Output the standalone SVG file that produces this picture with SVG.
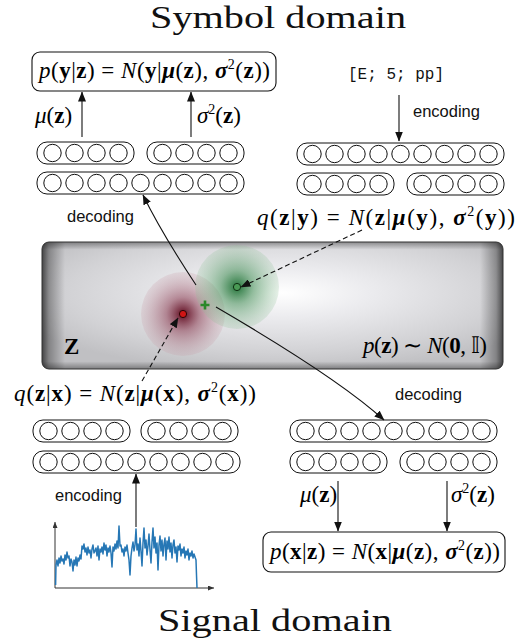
<svg xmlns="http://www.w3.org/2000/svg" width="528" height="643" viewBox="0 0 528 643">
<style>
.m{font-family:"Liberation Serif","Times New Roman",serif;font-size:23px;fill:#000}
.i{font-style:italic}
.b{font-weight:bold}
.bi{font-weight:bold;font-style:italic}
.sup{font-size:14px}
.lbl{font-family:"Liberation Sans",Arial,sans-serif;font-size:16.5px;fill:#111}
.title{font-family:"Liberation Serif","Times New Roman",serif;font-size:31px;fill:#111}
.mono{font-family:"Liberation Mono","Courier New",monospace;font-size:16px;fill:#111}
.blk{fill:#fff;stroke:#111;stroke-width:1}
.neu{fill:#fff;stroke:#111;stroke-width:1}
.box{fill:#fff;stroke:#111;stroke-width:1.1}
.conn{fill:none;stroke:#111;stroke-width:1.1}
.dash{fill:none;stroke:#111;stroke-width:1.1;stroke-dasharray:5 3}
.axis{fill:none;stroke:#333;stroke-width:1}
</style>
<defs>
<marker id="ah" markerUnits="userSpaceOnUse" markerWidth="10" markerHeight="8" refX="9.5" refY="4" orient="auto">
<path d="M0,0 L10,4 L0,8 z" fill="#111"/>
</marker>
<marker id="ahs" markerUnits="userSpaceOnUse" markerWidth="6" markerHeight="5" refX="6" refY="2.5" orient="auto">
<path d="M0,0 L6,2.5 L0,5 z" fill="#333"/>
</marker>
<radialGradient id="zbg" cx="0.52" cy="0.4" r="0.62">
<stop offset="0" stop-color="#ffffff"/>
<stop offset="0.3" stop-color="#ececef"/>
<stop offset="0.75" stop-color="#d2d2d5"/>
<stop offset="1" stop-color="#c0c0c3"/>
</radialGradient>
<linearGradient id="zvh" x1="0" y1="0" x2="1" y2="0">
<stop offset="0" stop-color="#000" stop-opacity="0.65"/>
<stop offset="0.015" stop-color="#000" stop-opacity="0.32"/>
<stop offset="0.05" stop-color="#000" stop-opacity="0"/>
<stop offset="0.95" stop-color="#000" stop-opacity="0"/>
<stop offset="0.985" stop-color="#000" stop-opacity="0.32"/>
<stop offset="1" stop-color="#000" stop-opacity="0.65"/>
</linearGradient>
<linearGradient id="zvv" x1="0" y1="0" x2="0" y2="1">
<stop offset="0" stop-color="#000" stop-opacity="0.35"/>
<stop offset="0.06" stop-color="#000" stop-opacity="0"/>
<stop offset="0.94" stop-color="#000" stop-opacity="0"/>
<stop offset="1" stop-color="#000" stop-opacity="0.35"/>
</linearGradient>
<radialGradient id="gblob">
<stop offset="0" stop-color="#24733a" stop-opacity="1"/>
<stop offset="0.4" stop-color="#3f8c52" stop-opacity="0.55"/>
<stop offset="1" stop-color="#8cbf94" stop-opacity="0.22"/>
</radialGradient>
<radialGradient id="rblob">
<stop offset="0" stop-color="#5e0a1e" stop-opacity="1"/>
<stop offset="0.4" stop-color="#8a3a50" stop-opacity="0.55"/>
<stop offset="1" stop-color="#c79aa6" stop-opacity="0.22"/>
</radialGradient>
</defs>

<g id="title-symbol"><text class="title" x="150" y="28" textLength="256" lengthAdjust="spacingAndGlyphs">Symbol domain</text></g>
<g id="title-signal"><text class="title" x="158" y="631" textLength="234" lengthAdjust="spacingAndGlyphs">Signal domain</text></g>

<g id="p-y-given-z">
<rect class="box" x="32" y="52" width="244" height="39" rx="8"/>
<text class="m" x="39" y="78" textLength="231" lengthAdjust="spacing"><tspan class="i">p</tspan>(<tspan class="b">y</tspan>|<tspan class="b">z</tspan>) = <tspan class="i">N</tspan>(<tspan class="b">y</tspan>|<tspan class="bi">μ</tspan>(<tspan class="b">z</tspan>), <tspan class="bi">σ</tspan><tspan class="sup" dy="-9">2</tspan><tspan dy="9">(</tspan><tspan class="b">z</tspan>))</text>
</g>

<g id="label-mu-top"><text class="m" x="35" y="123" font-size="21"><tspan class="i">μ</tspan>(<tspan class="b">z</tspan>)</text></g>
<g id="label-sigma-top"><text class="m" x="197" y="123" font-size="21"><tspan class="i">σ</tspan><tspan class="sup" dy="-9">2</tspan><tspan dy="9">(</tspan><tspan class="b">z</tspan>)</text></g>

<g id="symbol-input"><text class="mono" x="348" y="79">[E; 5; pp]</text></g>
<g id="label-encoding-top"><text class="lbl" x="413" y="117">encoding</text></g>
<g id="label-decoding-top"><text class="lbl" x="67" y="222">decoding</text></g>

<g id="decoder-symbol">
<rect class="blk" x="37" y="142" width="97" height="22" rx="10"/>
<circle class="neu" cx="52.5" cy="153" r="8.7"/><circle class="neu" cx="74.5" cy="153" r="8.7"/><circle class="neu" cx="96.5" cy="153" r="8.7"/><circle class="neu" cx="118.5" cy="153" r="8.7"/>
<rect class="blk" x="147" y="142" width="97" height="22" rx="10"/>
<circle class="neu" cx="162.5" cy="153" r="8.7"/><circle class="neu" cx="184.5" cy="153" r="8.7"/><circle class="neu" cx="206.5" cy="153" r="8.7"/><circle class="neu" cx="228.5" cy="153" r="8.7"/>
<rect class="blk" x="37" y="172" width="207" height="22" rx="10"/>
<circle class="neu" cx="52.5" cy="183" r="8.7"/><circle class="neu" cx="74.5" cy="183" r="8.7"/><circle class="neu" cx="96.5" cy="183" r="8.7"/><circle class="neu" cx="118.5" cy="183" r="8.7"/><circle class="neu" cx="140.5" cy="183" r="8.7"/><circle class="neu" cx="162.5" cy="183" r="8.7"/><circle class="neu" cx="184.5" cy="183" r="8.7"/><circle class="neu" cx="206.5" cy="183" r="8.7"/><circle class="neu" cx="228.5" cy="183" r="8.7"/>
</g>

<g id="encoder-symbol">
<rect class="blk" x="297" y="143" width="207" height="22" rx="10"/>
<circle class="neu" cx="312.5" cy="154" r="8.7"/><circle class="neu" cx="334.5" cy="154" r="8.7"/><circle class="neu" cx="356.5" cy="154" r="8.7"/><circle class="neu" cx="378.5" cy="154" r="8.7"/><circle class="neu" cx="400.5" cy="154" r="8.7"/><circle class="neu" cx="422.5" cy="154" r="8.7"/><circle class="neu" cx="444.5" cy="154" r="8.7"/><circle class="neu" cx="466.5" cy="154" r="8.7"/><circle class="neu" cx="488.5" cy="154" r="8.7"/>
<rect class="blk" x="297" y="173" width="97" height="22" rx="10"/>
<circle class="neu" cx="312.5" cy="184" r="8.7"/><circle class="neu" cx="334.5" cy="184" r="8.7"/><circle class="neu" cx="356.5" cy="184" r="8.7"/><circle class="neu" cx="378.5" cy="184" r="8.7"/>
<rect class="blk" x="407" y="173" width="97" height="22" rx="10"/>
<circle class="neu" cx="422.5" cy="184" r="8.7"/><circle class="neu" cx="444.5" cy="184" r="8.7"/><circle class="neu" cx="466.5" cy="184" r="8.7"/><circle class="neu" cx="488.5" cy="184" r="8.7"/>
</g>

<g id="q-z-given-y"><text class="m" x="257" y="225" textLength="258" lengthAdjust="spacing"><tspan class="i">q</tspan>(<tspan class="b">z</tspan>|<tspan class="b">y</tspan>) = <tspan class="i">N</tspan>(<tspan class="b">z</tspan>|<tspan class="bi">μ</tspan>(<tspan class="b">y</tspan>), <tspan class="bi">σ</tspan><tspan class="sup" dy="-9">2</tspan><tspan dy="9">(</tspan><tspan class="b">y</tspan>))</text></g>

<g id="latent-space">
<rect x="42" y="242" width="461" height="127" rx="7" fill="url(#zbg)"/>
<rect x="42" y="242" width="461" height="127" rx="7" fill="url(#zvh)"/>
<rect x="42" y="242" width="461" height="127" rx="7" fill="url(#zvv)"/>
<rect x="42" y="242" width="461" height="127" rx="7" fill="none" stroke="#333" stroke-width="1"/>
<text class="m b" x="64" y="354" font-size="24">Z</text>
<text class="m" x="363" y="353" font-size="21" textLength="124" lengthAdjust="spacing"><tspan class="i">p</tspan>(<tspan class="b">z</tspan>) ∼ <tspan class="i">N</tspan>(<tspan class="b">0</tspan>, 𝕀)</text>
</g>

<g id="posterior-x">
<circle cx="183" cy="314" r="42" fill="url(#rblob)"/>
</g>
<g id="posterior-y">
<circle cx="237" cy="287" r="42" fill="url(#gblob)"/>
</g>
<g id="mean-x"><circle cx="183" cy="314" r="3.6" fill="#d01515" stroke="#2a0505" stroke-width="1"/></g>
<g id="mean-y"><circle cx="237" cy="287" r="3.6" fill="#4a9a55" stroke="#0e2e12" stroke-width="1"/></g>
<g id="sample-z"><path d="M200.5,305 h9 M205,300.5 v9" stroke="#2a882a" stroke-width="2.6" fill="none"/></g>

<g id="q-z-given-x"><text class="m" x="14" y="401" textLength="242" lengthAdjust="spacing"><tspan class="i">q</tspan>(<tspan class="b">z</tspan>|<tspan class="b">x</tspan>) = <tspan class="i">N</tspan>(<tspan class="b">z</tspan>|<tspan class="bi">μ</tspan>(<tspan class="b">x</tspan>), <tspan class="bi">σ</tspan><tspan class="sup" dy="-9">2</tspan><tspan dy="9">(</tspan><tspan class="b">x</tspan>))</text></g>

<g id="label-decoding-bottom"><text class="lbl" x="395" y="400">decoding</text></g>

<g id="encoder-signal">
<rect class="blk" x="33" y="420" width="97" height="22" rx="10"/>
<circle class="neu" cx="48.5" cy="431" r="8.7"/><circle class="neu" cx="70.5" cy="431" r="8.7"/><circle class="neu" cx="92.5" cy="431" r="8.7"/><circle class="neu" cx="114.5" cy="431" r="8.7"/>
<rect class="blk" x="141" y="420" width="97" height="22" rx="10"/>
<circle class="neu" cx="156.5" cy="431" r="8.7"/><circle class="neu" cx="178.5" cy="431" r="8.7"/><circle class="neu" cx="200.5" cy="431" r="8.7"/><circle class="neu" cx="222.5" cy="431" r="8.7"/>
<rect class="blk" x="33" y="451" width="207" height="22" rx="10"/>
<circle class="neu" cx="48.5" cy="462" r="8.7"/><circle class="neu" cx="70.5" cy="462" r="8.7"/><circle class="neu" cx="92.5" cy="462" r="8.7"/><circle class="neu" cx="114.5" cy="462" r="8.7"/><circle class="neu" cx="136.5" cy="462" r="8.7"/><circle class="neu" cx="158.5" cy="462" r="8.7"/><circle class="neu" cx="180.5" cy="462" r="8.7"/><circle class="neu" cx="202.5" cy="462" r="8.7"/><circle class="neu" cx="224.5" cy="462" r="8.7"/>
</g>

<g id="decoder-signal">
<rect class="blk" x="290" y="420" width="207" height="22" rx="10"/>
<circle class="neu" cx="305.5" cy="431" r="8.7"/><circle class="neu" cx="327.5" cy="431" r="8.7"/><circle class="neu" cx="349.5" cy="431" r="8.7"/><circle class="neu" cx="371.5" cy="431" r="8.7"/><circle class="neu" cx="393.5" cy="431" r="8.7"/><circle class="neu" cx="415.5" cy="431" r="8.7"/><circle class="neu" cx="437.5" cy="431" r="8.7"/><circle class="neu" cx="459.5" cy="431" r="8.7"/><circle class="neu" cx="481.5" cy="431" r="8.7"/>
<rect class="blk" x="290" y="451" width="97" height="22" rx="10"/>
<circle class="neu" cx="305.5" cy="462" r="8.7"/><circle class="neu" cx="327.5" cy="462" r="8.7"/><circle class="neu" cx="349.5" cy="462" r="8.7"/><circle class="neu" cx="371.5" cy="462" r="8.7"/>
<rect class="blk" x="400" y="451" width="97" height="22" rx="10"/>
<circle class="neu" cx="415.5" cy="462" r="8.7"/><circle class="neu" cx="437.5" cy="462" r="8.7"/><circle class="neu" cx="459.5" cy="462" r="8.7"/><circle class="neu" cx="481.5" cy="462" r="8.7"/>
</g>

<g id="label-encoding-bottom"><text class="lbl" x="55" y="501">encoding</text></g>
<g id="label-mu-bottom"><text class="m" x="300" y="502" font-size="21"><tspan class="i">μ</tspan>(<tspan class="b">z</tspan>)</text></g>
<g id="label-sigma-bottom"><text class="m" x="451" y="502" font-size="21"><tspan class="i">σ</tspan><tspan class="sup" dy="-9">2</tspan><tspan dy="9">(</tspan><tspan class="b">z</tspan>)</text></g>

<g id="p-x-given-z">
<rect class="box" x="263" y="532" width="242" height="40" rx="8"/>
<text class="m" x="270" y="559" textLength="230" lengthAdjust="spacing"><tspan class="i">p</tspan>(<tspan class="b">x</tspan>|<tspan class="b">z</tspan>) = <tspan class="i">N</tspan>(<tspan class="b">x</tspan>|<tspan class="bi">μ</tspan>(<tspan class="b">z</tspan>), <tspan class="bi">σ</tspan><tspan class="sup" dy="-9">2</tspan><tspan dy="9">(</tspan><tspan class="b">z</tspan>))</text>
</g>

<g id="signal-plot">
<path class="axis" d="M55,588 V522" marker-end="url(#ahs)"/>
<path class="axis" d="M55,588 H214" marker-end="url(#ahs)"/>
<polyline fill="none" stroke="#2677b5" stroke-width="1.5" stroke-linejoin="round" points="55.6,585 56,565 57,560 58,566 59,558 60,563 61,556 62,561 63,559 64,564 65,555 66,560 67,552 68,558 69,556 70,566 71,559 72,562 73,571 74,560 75,565 76,557 77,566 78,558 79,561 80,555 81,559 82,546 83,549 84,544 85,552 86,548 87,555 88,547 89,553 90,550 91,558 92,549 93,545 94,553 95,551 96,548 97,556 98,546 99,560 100,549 101,552 102,547 103,554 104,543 105,550 106,545 107,556 108,548 109,552 110,546 111,553 112,567 113,547 114,551 115,544 116,549 117,541 118,548 119,526 120,546 121,545 122,552 123,549 124,556 125,547 126,551 127,545 128,553 129,560 130,575 131,556 132,548 133,542 134,551 135,545 136,529 137,550 138,544 139,556 140,538 141,551 142,566 143,543 144,528 145,548 146,540 147,555 148,546 149,534 150,550 151,563 152,542 153,528 154,548 155,537 156,553 157,543 158,570 159,545 160,536 161,551 162,540 163,556 164,544 165,538 166,560 167,541 168,549 169,537 170,552 171,543 172,558 173,545 174,540 175,553 176,547 177,562 178,546 179,550 180,544 181,556 182,549 183,553 184,547 185,558 186,551 187,555 188,549 189,560 190,553 191,556 192,551 193,558 194,554 195,557 196,560 196.5,575 197,588"/>
</g>

<g id="connectors">
<path class="conn" d="M82,137 V92" marker-end="url(#ah)"/>
<path class="conn" d="M191,137 V92" marker-end="url(#ah)"/>
<path class="conn" d="M399,95 V141" marker-end="url(#ah)"/>
<path class="conn" d="M196,285 Q161,232 143,195" marker-end="url(#ah)"/>
<path class="dash" d="M362,230 L241,287" marker-end="url(#ah)"/>
<path class="dash" d="M142,381 L178,318" marker-end="url(#ah)"/>
<path class="conn" d="M216,307 Q338,378 384,420" marker-end="url(#ah)"/>
<path class="conn" d="M136,527 V474" marker-end="url(#ah)"/>
<path class="conn" d="M338,481 V531" marker-end="url(#ah)"/>
<path class="conn" d="M447,481 V531" marker-end="url(#ah)"/>
</g>
</svg>
